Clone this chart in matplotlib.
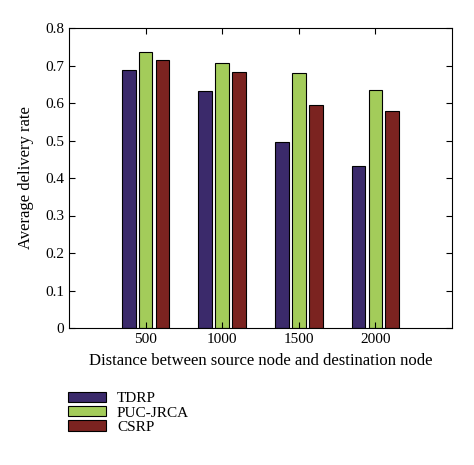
import matplotlib.pyplot as plt
import numpy as np

distances = ['500', '1000', '1500', '2000']
tdrp = [0.688, 0.631, 0.495, 0.432]
puc_jrca = [0.736, 0.708, 0.680, 0.635]
csrp = [0.716, 0.682, 0.595, 0.579]

plt.rcParams['font.family'] = ['Liberation Serif', 'DejaVu Serif']

fig = plt.figure(figsize=(4.74, 4.65), dpi=100)
ax = fig.add_axes([69 / 474, 1 - 328 / 465, 383 / 474, 300 / 465])

x = np.arange(1, len(distances) + 1)
w = 0.18
step = 0.22
ax.bar(x - step, tdrp, w, color='#3b2a6b', edgecolor='black', linewidth=0.8, label='TDRP')
ax.bar(x, puc_jrca, w, color='#a3cc5a', edgecolor='black', linewidth=0.8, label='PUC-JRCA')
ax.bar(x + step, csrp, w, color='#7b2320', edgecolor='black', linewidth=0.8, label='CSRP')

ax.set_xlim(0, 5)
ax.set_ylim(0, 0.8)
ax.set_xticks(x)
ax.set_xticklabels(distances)
ax.set_yticks(np.arange(0, 0.81, 0.1))
ax.set_yticklabels(['0'] + ['%.1f' % v for v in np.arange(0.1, 0.81, 0.1)])
ax.tick_params(direction='in', top=True, right=True, labelsize=11, length=4, width=0.8)
for s in ax.spines.values():
    s.set_linewidth(0.8)

ax.set_xlabel('Distance between source node and destination node', fontsize=12, labelpad=5)
ax.set_ylabel('Average delivery rate', fontsize=12, labelpad=8)

fig.legend(loc='upper left', bbox_to_anchor=(68 / 474, 1 - 392 / 465), frameon=False,
           borderpad=0, borderaxespad=0,
           fontsize=11, handlelength=2.5, handleheight=0.65, labelspacing=0.05, handletextpad=0.7)

fig.savefig('out.png', dpi=100)
